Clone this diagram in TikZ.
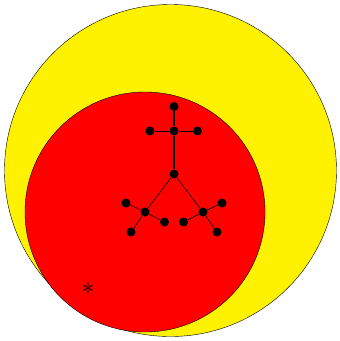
\documentclass[tikz,border=0pt]{standalone}
\begin{document}
\begin{tikzpicture}[x=1pt,y=-1pt,
  vtx/.style={circle,fill=black,inner sep=0pt,minimum size=9pt},
  thin edge/.style={line width=0.6pt},
  thick edge/.style={line width=1.3pt}]
\useasboundingbox (0,0) rectangle (340,341);
\fill[white] (0,0) rectangle (340,341);
\draw[fill=yellow,line width=0.4pt] (170.5,170.5) circle (166);
\draw[fill=red,line width=0.4pt] (145,212) circle (120);
\node[vtx] (t) at (174,106.5) {};
\node[vtx] (m) at (174,131) {};
\node[vtx] (ml) at (150,131) {};
\node[vtx] (mr) at (197.5,131) {};
\node[vtx] (c) at (174,174) {};
\node[vtx] (l) at (145,212) {};
\node[vtx] (l1) at (126,203) {};
\node[vtx] (l2) at (131,232) {};
\node[vtx] (l3) at (164.5,222) {};
\node[vtx] (r) at (203,212) {};
\node[vtx] (r1) at (222,203) {};
\node[vtx] (r2) at (217,232) {};
\node[vtx] (r3) at (183.5,222) {};
\draw[thick edge] (t) -- (m) -- (c);
\draw[thin edge] (ml) -- (m) -- (mr);
\draw[thin edge] (c) -- (l) (c) -- (r);
\draw[thin edge] (l1) -- (l) -- (l2) (l) -- (l3);
\draw[thin edge] (r1) -- (r) -- (r2) (r) -- (r3);
\node[inner sep=0pt] (ast) at (88,289) {\fontsize{24}{24}\selectfont $\ast$};
\end{tikzpicture}
\end{document}
